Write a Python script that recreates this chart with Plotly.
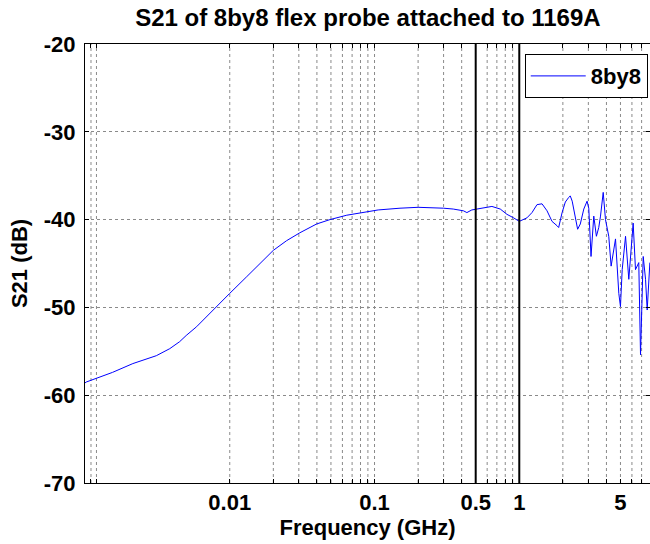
import plotly.graph_objects as go

# ---- data ----
freq_ghz = [0.00100, 0.00102, 0.00155, 0.00214, 0.00311, 0.00385, 0.00451, 0.0050, 0.0059,
            0.0069, 0.0081, 0.0100, 0.0131, 0.0170, 0.0200, 0.0247, 0.0305, 0.0398, 0.0492,
            0.0643, 0.0836, 0.106, 0.15, 0.2, 0.3, 0.35, 0.4116, 0.4345, 0.47, 0.537, 0.647,
            0.739, 0.822, 0.913, 1.0, 1.13, 1.224, 1.325, 1.436, 1.555, 1.683, 1.824, 1.871,
            1.976, 2.08, 2.19, 2.25, 2.32, 2.44, 2.53, 2.64, 2.79, 2.94, 3.02, 3.13, 3.27,
            3.41, 3.54, 3.64, 3.80, 3.94, 4.15, 4.31, 4.46, 4.62, 4.87, 5.0, 5.14, 5.42,
            5.71, 5.86, 6.12, 6.35, 6.69, 6.88, 7.18, 7.45, 7.65, 7.98]
s21_db = [-58.6, -58.5, -57.4, -56.4, -55.5, -54.7, -53.9, -53.2, -52.2,
          -51.1, -50.0, -48.4, -46.5, -44.6, -43.5, -42.4, -41.5, -40.5, -40.0,
          -39.5, -39.2, -38.9, -38.7, -38.6, -38.7, -38.8, -39.0, -39.2, -38.9, -38.7, -38.5,
          -38.8, -39.4, -39.8, -40.2, -39.8, -39.2, -38.3, -38.2, -39.0, -40.2, -40.7, -40.9,
          -39.2, -38.0, -37.5, -37.3, -37.9, -39.8, -41.1, -40.5, -38.8, -37.9, -38.7, -44.2, -39.6,
          -41.9, -40.9, -39.6, -36.9, -40.0, -41.9, -45.3, -43.5, -42.2, -48.4, -49.9, -45.7, -41.9,
          -46.8, -44.5, -40.4, -45.7, -44.9, -55.4, -44.2, -46.8, -50.3, -44.9]

series_name = "8by8"
x_tick_vals = [0.0011, 0.0012,
               0.01, 0.02, 0.03, 0.04, 0.05, 0.06, 0.07, 0.08, 0.09,
               0.1, 0.2, 0.3, 0.4, 0.5, 0.6, 0.7, 0.8, 0.9,
               1, 2, 3, 4, 5, 6, 7]
x_tick_text = ["", "",
               "0.01", "", "", "", "", "", "", "", "",
               "0.1", "", "", "", "0.5", "", "", "", "",
               "1", "", "", "", "5", "", ""]
emphasis_lines = [0.5, 1]
y_tick_vals = [-70, -60, -50, -40, -30, -20]
y_tick_text = ["-70", "-60", "-50", "-40", "-30", "-20"]

FONT = "Liberation Sans, Arial, sans-serif"

fig = go.Figure()

# vertical dotted grid at each x tick position
for xv in x_tick_vals:
    if xv in emphasis_lines:
        continue
    fig.add_shape(type="line", xref="x", yref="paper", x0=xv, x1=xv, y0=0, y1=1,
                  line=dict(color="#8a8a8a", width=1, dash="dot"), layer="below")

fig.add_trace(go.Scatter(x=freq_ghz, y=s21_db, mode="lines", name=series_name,
                         line=dict(color="#0000ff", width=1)))

for xv in emphasis_lines:
    fig.add_shape(type="line", xref="x", yref="paper", x0=xv, x1=xv, y0=0, y1=1,
                  line=dict(color="black", width=2), layer="above")

fig.update_layout(
    width=650, height=544,
    margin=dict(l=85, r=0, t=44, b=61),
    paper_bgcolor="white", plot_bgcolor="white",
    title=dict(text="S21 of 8by8 flex probe attached to 1169A", x=0.566, xanchor="center",
               y=0.967, yanchor="middle",
               font=dict(family=FONT, size=24, color="black", weight="bold")),
    showlegend=True,
    legend=dict(x=0.996, xanchor="right", y=0.977, yanchor="top",
                bgcolor="white", bordercolor="black", borderwidth=1,
                font=dict(family=FONT, size=22, color="black", weight="bold"),
                itemwidth=55),
    font=dict(family=FONT, color="black"),
)

fig.update_xaxes(
    type="log", range=[-3, 0.903],
    tickmode="array", tickvals=x_tick_vals, ticktext=x_tick_text,
    ticks="inside", ticklen=4, tickcolor="black",
    showline=True, linecolor="black", linewidth=1, mirror="allticks",
    showgrid=False,
    tickfont=dict(family=FONT, size=22, color="black", weight="bold"),
    ticklabelstandoff=0,
    title=dict(text="Frequency (GHz)", standoff=0,
               font=dict(family=FONT, size=22, color="black", weight="bold")),
    zeroline=False,
)
fig.update_yaxes(
    range=[-70, -20], tickmode="array", tickvals=y_tick_vals, ticktext=y_tick_text,
    ticks="inside", ticklen=4, tickcolor="black",
    showline=True, linecolor="black", linewidth=1, mirror="allticks",
    showgrid=True, gridcolor="#8a8a8a", griddash="dot", gridwidth=1,
    tickfont=dict(family=FONT, size=22, color="black", weight="bold"),
    ticklabelstandoff=4,
    title=dict(text="S21 (dB)", standoff=10,
               font=dict(family=FONT, size=22, color="black", weight="bold")),
    zeroline=False,
)

fig.write_html("out.html")
